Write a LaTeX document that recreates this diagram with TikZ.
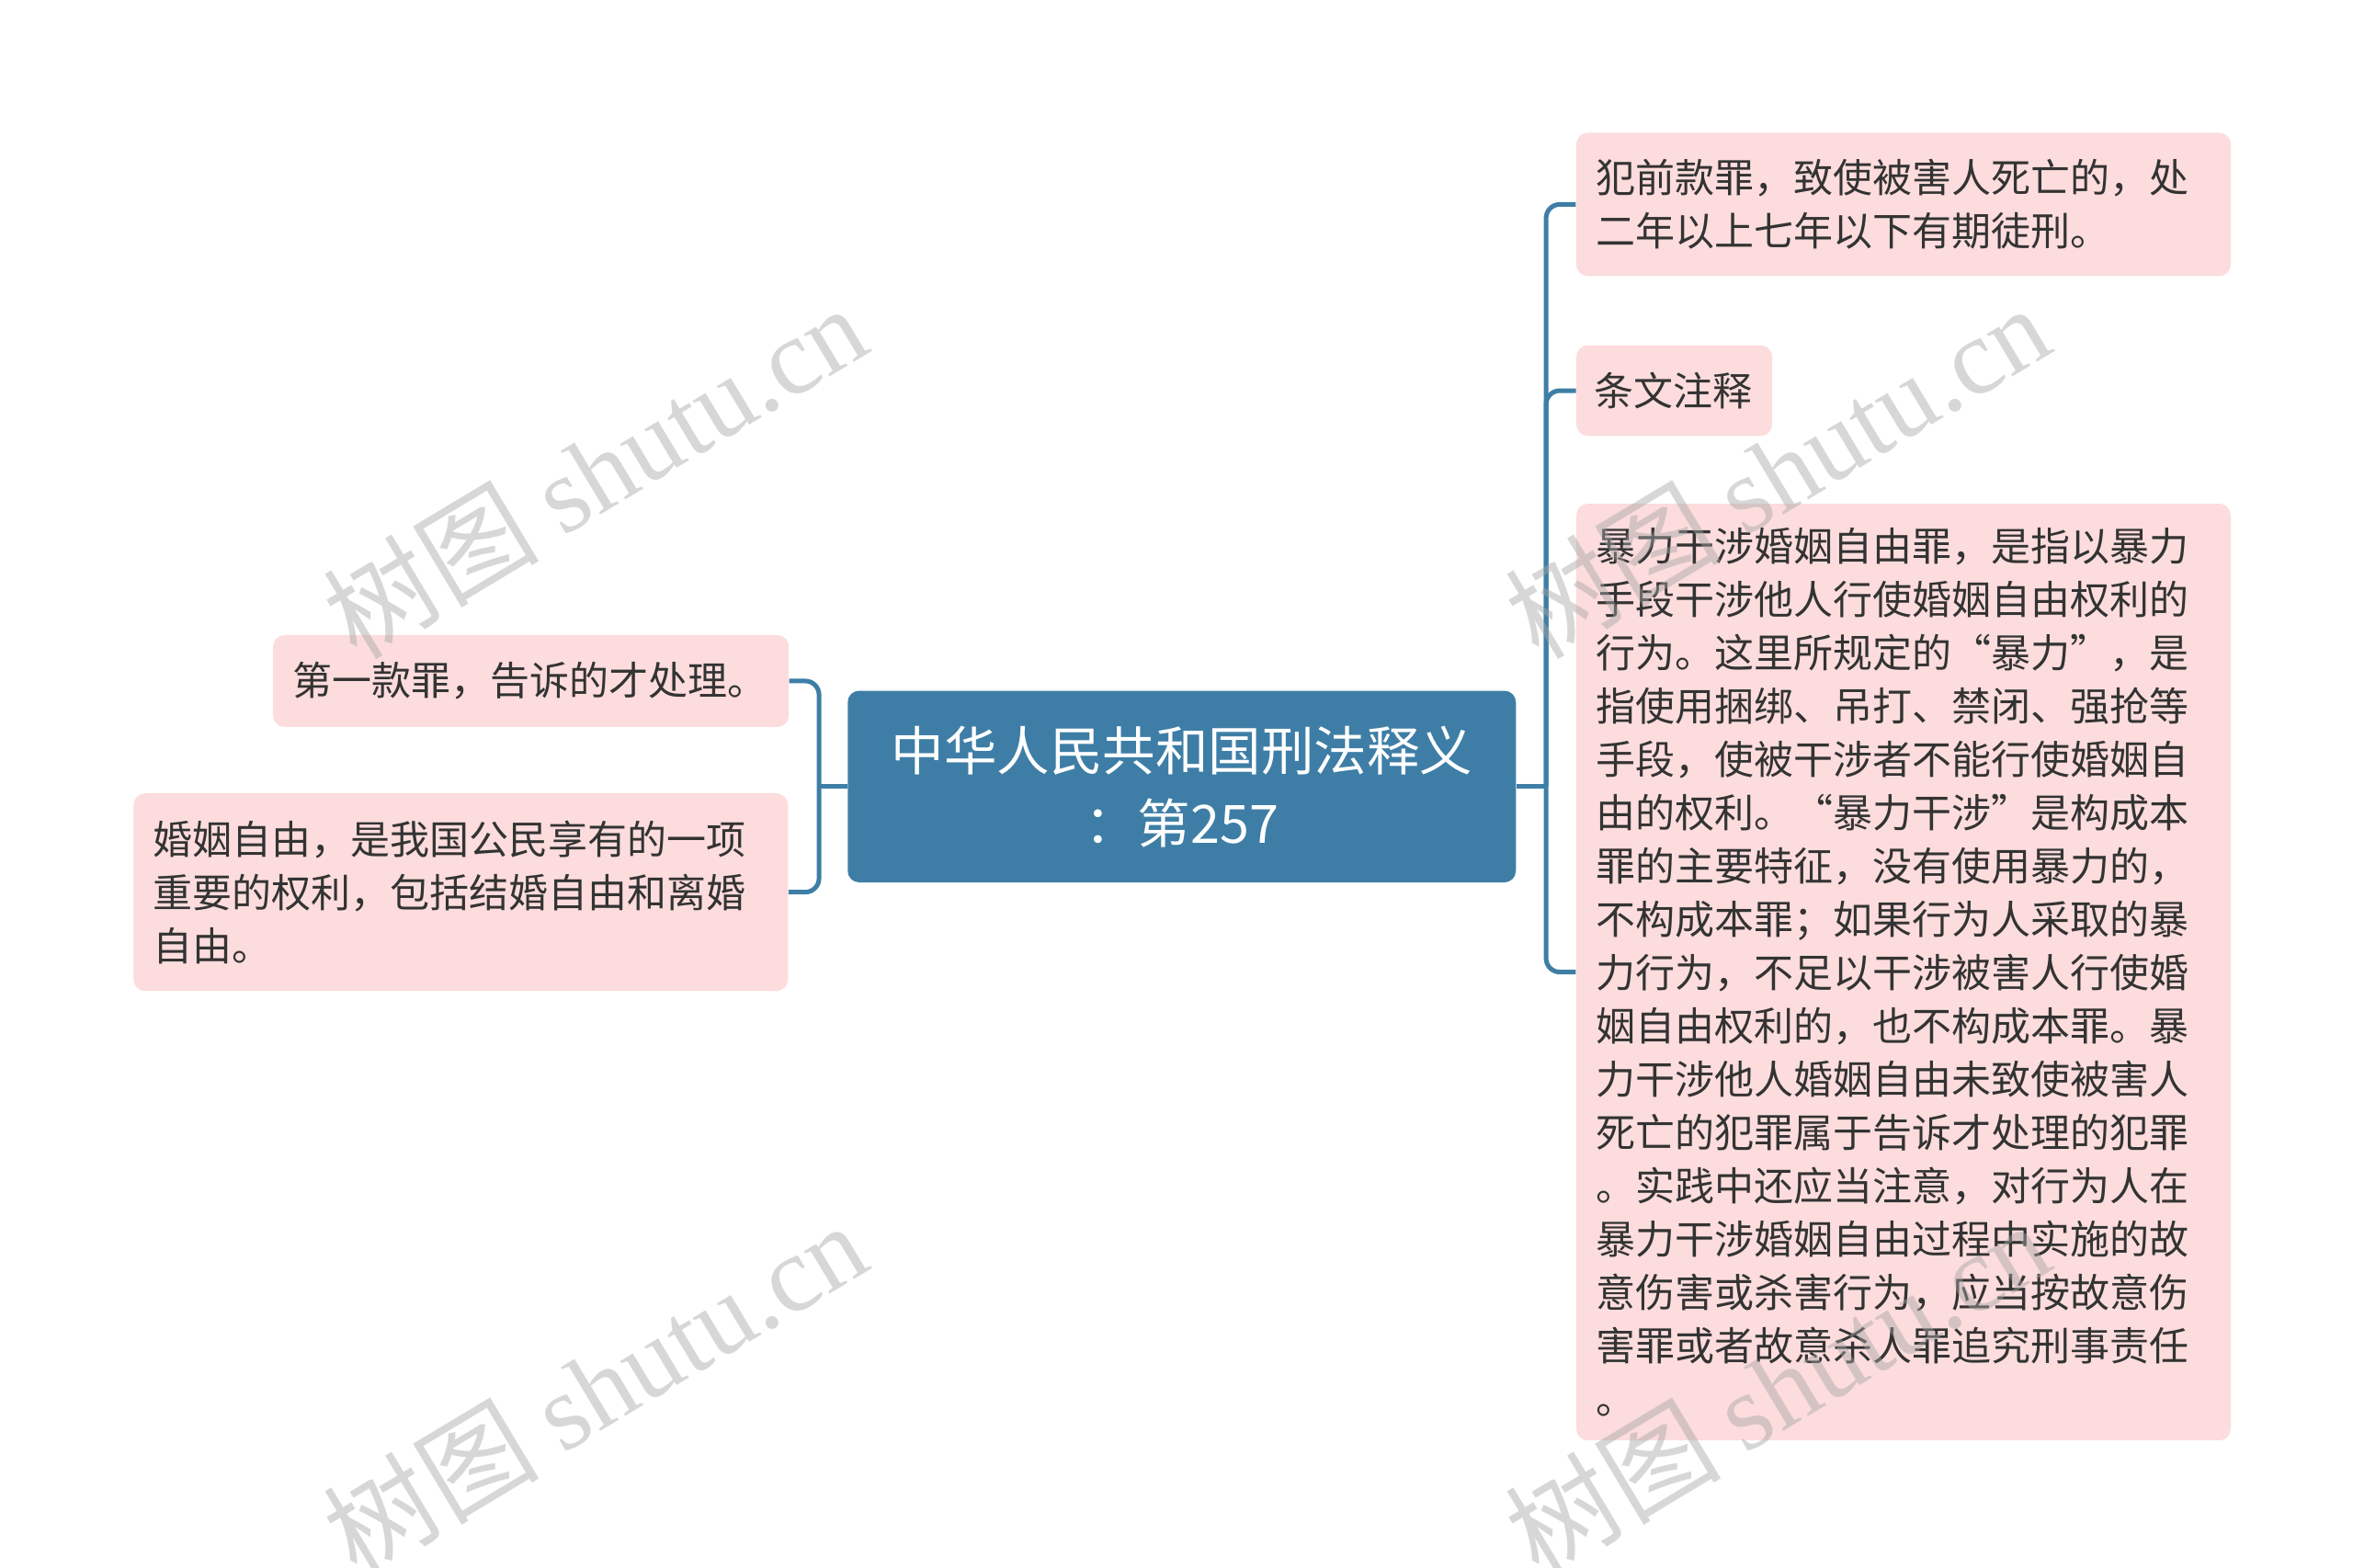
\documentclass[tikz,border=0pt]{standalone}
\usepackage{fontspec}
\setmainfont{Noto Sans CJK SC}
\newfontfamily\markfont{Liberation Serif}
\usepackage{xcolor}
\usepackage{tikz}

\definecolor{topicblue}{HTML}{3E7EA6}
\definecolor{leafpink}{HTML}{FCDCDC}
\definecolor{leaftext}{HTML}{333333}

\tikzset{
  topic/.style={fill=topicblue, rounded corners=5pt, text=white, align=center,
    font=\fontsize{23pt}{31.5pt}\selectfont, minimum width=290.8pt, minimum height=83.4pt},
  leaf/.style={fill=leafpink, rounded corners=5pt, text=leaftext, align=left,
    font=\fontsize{17.2pt}{23.2pt}\selectfont, inner xsep=8.5pt, inner ysep=0pt},
  link/.style={draw=topicblue, line width=2pt, rounded corners=6pt},
  wmark/.style={rotate=31, text=gray!70, opacity=0.45, font=\fontsize{47pt}{47pt}\selectfont}
}

\begin{document}
\begin{tikzpicture}[x=0.6564pt, y=-0.6564pt]
        \useasboundingbox (0,0) rectangle (1560,1039);

        \node[topic] (root) at (783.5,521.5) {中华人民共和国刑法释义\\：第257};

        \node[leaf, text width=207.4pt, minimum height=40pt] (L1) at (352,451.5) {第一款罪，告诉的才处理。};
        \node[leaf, text width=267.8pt, minimum height=86pt] (L2) at (305.5,591.5) {婚姻自由，是我国公民享有的一项\\重要的权利，包括结婚自由和离婚\\自由。};

        \node[leaf, text width=267.8pt, minimum height=62.4pt] (R1) at (1262,135.5) {犯前款罪，致使被害人死亡的，处\\二年以上七年以下有期徒刑。};
        \node[leaf, text width=70pt, inner xsep=7.6pt, minimum height=39.4pt] (R2) at (1110,259) {条文注释};
        \node[leaf, text width=267.8pt, minimum height=407.6pt] (R3) at (1262,644.5) {暴力干涉婚姻自由罪，是指以暴力\\手段干涉他人行使婚姻自由权利的\\行为。这里所规定的“暴力”，是\\指使用捆绑、吊打、禁闭、强抢等\\手段，使被干涉者不能行使婚姻自\\由的权利。“暴力干涉”是构成本\\罪的主要特征，没有使用暴力的，\\不构成本罪；如果行为人采取的暴\\力行为，不足以干涉被害人行使婚\\姻自由权利的，也不构成本罪。暴\\力干涉他人婚姻自由未致使被害人\\死亡的犯罪属于告诉才处理的犯罪\\。实践中还应当注意，对行为人在\\暴力干涉婚姻自由过程中实施的故\\意伤害或杀害行为，应当按故意伤\\害罪或者故意杀人罪追究刑事责任\\。};

        \coordinate (rj) at (1025,521.5);
        \coordinate (lj) at (543,521.5);

        \draw[link] (root.east) -- (rj);
        \draw[link] (rj) |- (R1.west);
        \draw[link] (rj) |- (R2.west);
        \draw[link] (rj) |- (R3.west);
        \draw[link] (root.west) -- (lj);
        \draw[link] (lj) |- (L1.east);
        \draw[link] (lj) |- (L2.east);

        \node[wmark] (wm1) at (394,312) {树图 {\markfont shutu.cn}};
        \node[wmark] (wm2) at (1178,312) {树图 {\markfont shutu.cn}};
        \node[wmark] (wm3) at (394,920) {树图 {\markfont shutu.cn}};
        \node[wmark] (wm4) at (1178,920) {树图 {\markfont shutu.cn}};
    \end{tikzpicture}
\end{document}
